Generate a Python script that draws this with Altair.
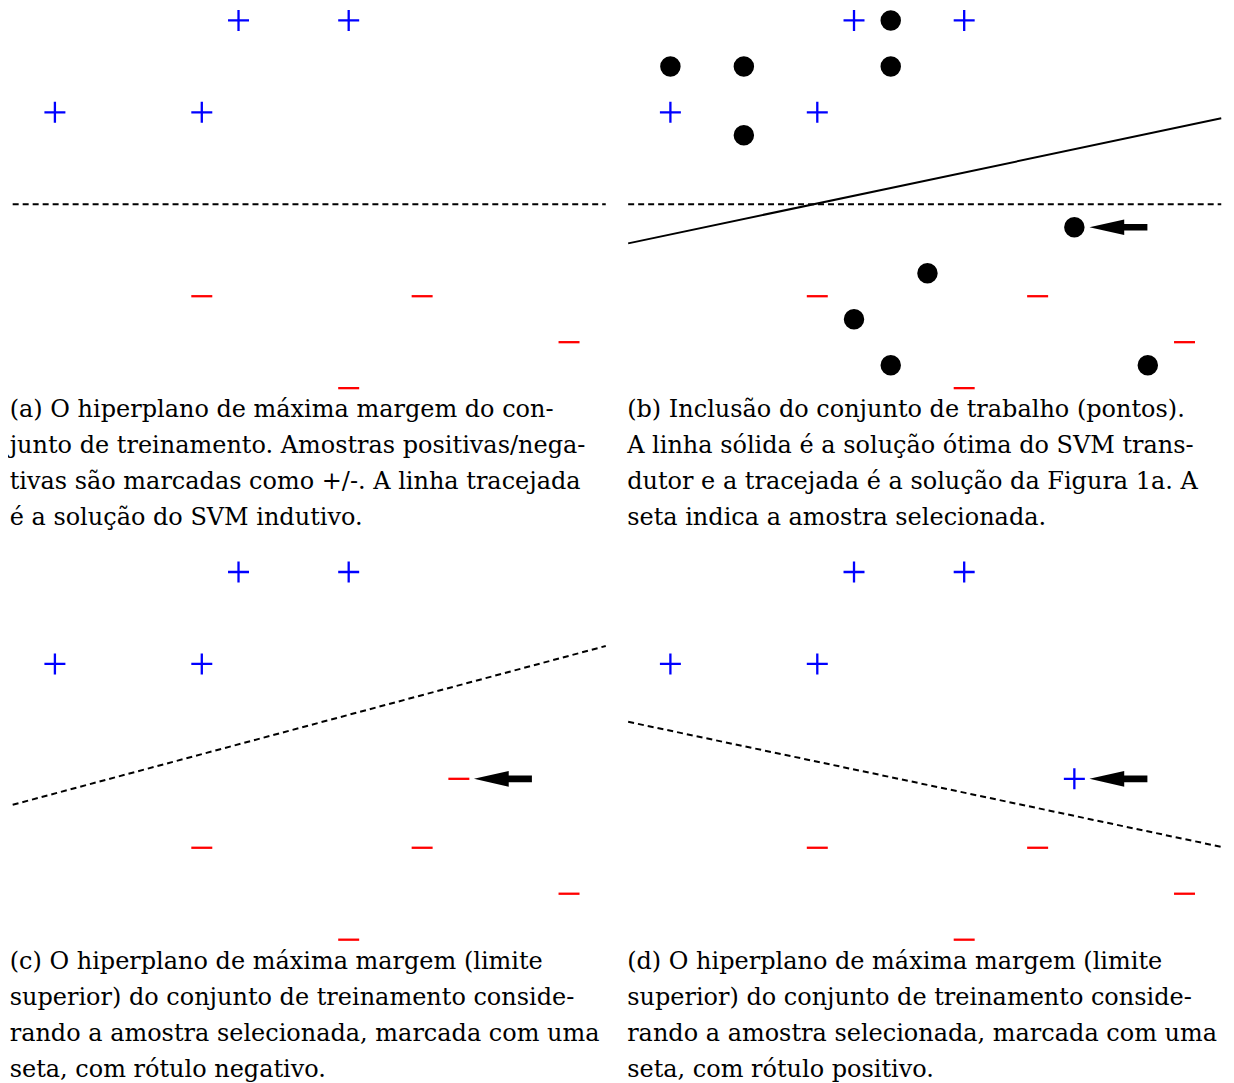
import altair as alt
import pandas as pd

# ---- data (grid units) ----
POS_X = [1, 5, 6, 9]
POS_Y = [4, 4, 8, 8]
NEG_X = [5, 11, 15, 9]
NEG_Y = [-4, -4, -6, -8]
WORK_X = [7, 1, 3, 7, 3, 12, 8, 6, 7, 14]
WORK_Y = [8, 6, 6, 6, 3, -1, -3, -5, -7, -7]
SEL_X = [12]
SEL_Y = [-1]
ARROW_X = [13.2]
ARROW_Y = [-1]
LINE_X = [-0.15, 16]
INDUCTIVE_Y = [0, 0]
TRANSDUCTIVE_Y = [-1.7, 3.74]
UPPER_NEG_Y = [-2.13, 4.78]
UPPER_POS_Y = [1.48, -3.96]

CAPTION_A = ["(a) O hiperplano de máxima margem do con-",
             "junto de treinamento. Amostras positivas/nega-",
             "tivas são marcadas como +/-. A linha tracejada",
             "é a solução do SVM indutivo."]
CAPTION_B = ["(b) Inclusão do conjunto de trabalho (pontos).",
             "A linha sólida é a solução ótima do SVM trans-",
             "dutor e a tracejada é a solução da Figura 1a. A",
             "seta indica a amostra selecionada."]
CAPTION_C = ["(c) O hiperplano de máxima margem (limite",
             "superior) do conjunto de treinamento conside-",
             "rando a amostra selecionada, marcada com uma",
             "seta, com rótulo negativo."]
CAPTION_D = ["(d) O hiperplano de máxima margem (limite",
             "superior) do conjunto de treinamento conside-",
             "rando a amostra selecionada, marcada com uma",
             "seta, com rótulo positivo."]

# ---- styling ----
W, H = 600, 392
XDOM = [-0.25, 16.075]
YDOM = [-8.695, 8.348]
PLUS = "M-1,0H1M0,-1V1"
MINUS = "M-1,0H1"
ARROW = "M-1,0L0.2,-0.27L0.2,-0.115L1,-0.115L1,0.115L0.2,0.115L0.2,0.27Z"
BLUE, RED = "#0000ff", "#ff0000"
FONT = "DejaVu Serif"

X = lambda: alt.X("x:Q", scale=alt.Scale(domain=XDOM, nice=False, zero=False), axis=None)
Y = lambda: alt.Y("y:Q", scale=alt.Scale(domain=YDOM, nice=False, zero=False), axis=None)


def df(xs, ys):
    return pd.DataFrame({"x": xs, "y": ys})


def symbols(xs, ys, shape, color, size=441, sw=2.3):
    return alt.Chart(df(xs, ys)).mark_point(
        shape=shape, filled=False, stroke=color, strokeWidth=sw, size=size, opacity=1
    ).encode(x=X(), y=Y())


def dots(xs, ys):
    return alt.Chart(df(xs, ys)).mark_point(
        shape="circle", filled=True, color="black", size=420, opacity=1
    ).encode(x=X(), y=Y())


def arrow(xs, ys):
    return alt.Chart(df(xs, ys)).mark_point(
        shape=ARROW, filled=True, color="black", size=3364, opacity=1, strokeWidth=0
    ).encode(x=X(), y=Y())


def line(xs, ys, dashed):
    kw = dict(color="black", strokeWidth=2)
    if dashed:
        kw["strokeDash"] = [6, 4]
    return alt.Chart(df(xs, ys)).mark_line(**kw).encode(x=X(), y=Y())


def panel(layers, caption, dx):
    return alt.layer(*layers).properties(
        width=W, height=H,
        title=alt.TitleParams(
            text=caption, orient="bottom", anchor="start", font=FONT,
            fontSize=24, fontWeight="normal", lineHeight=36, offset=-6,
            color="black", dx=dx,
        ),
    )


base_pts = lambda: [symbols(POS_X, POS_Y, PLUS, BLUE), symbols(NEG_X, NEG_Y, MINUS, RED)]

pa = panel([line(LINE_X, INDUCTIVE_Y, True)] + base_pts(), CAPTION_A, 1)
pb = panel([line(LINE_X, INDUCTIVE_Y, True), line(LINE_X, TRANSDUCTIVE_Y, False)]
           + base_pts() + [dots(WORK_X, WORK_Y), arrow(ARROW_X, ARROW_Y)], CAPTION_B, 3)
pc = panel([line(LINE_X, UPPER_NEG_Y, True)] + base_pts()
           + [symbols(SEL_X, SEL_Y, MINUS, RED), arrow(ARROW_X, ARROW_Y)], CAPTION_C, 1)
pd_ = panel([line(LINE_X, UPPER_POS_Y, True)] + base_pts()
            + [symbols(SEL_X, SEL_Y, PLUS, BLUE), arrow(ARROW_X, ARROW_Y)], CAPTION_D, 3)

chart = alt.concat(
    pa, pb, pc, pd_, columns=2,
    spacing={"row": 160, "column": 16}, bounds="flush",
).properties(
    padding={"top": -4, "bottom": 0, "left": 0, "right": 0}
).configure_view(stroke=None)

chart.save("out.html", embed_options={"renderer": "svg", "actions": False})
